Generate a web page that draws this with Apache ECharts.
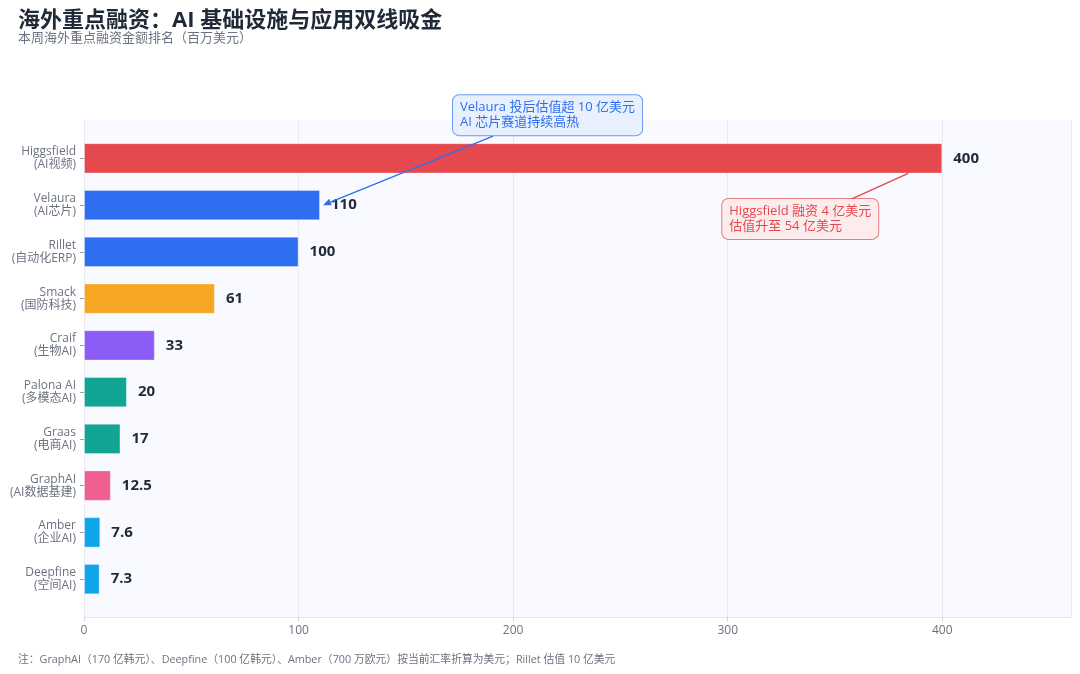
<!DOCTYPE html>
<html>
<head>
<meta charset="utf-8">
<script src="https://cdn.jsdelivr.net/npm/echarts@6/dist/echarts.min.js"></script>
<style>
html,body{margin:0;padding:0;background:#fff;}
#chart{width:1080px;height:674px;}
</style>
</head>
<body>
<div id="chart"></div>
<script>
const categories = ['Higgsfield\n(AI视频)', 'Velaura\n(AI芯片)', 'Rillet\n(自动化ERP)', 'Smack\n(国防科技)', 'Craif\n(生物AI)', 'Palona AI\n(多模态AI)', 'Graas\n(电商AI)', 'GraphAI\n(AI数据基建)', 'Amber\n(企业AI)', 'Deepfine\n(空间AI)'];
const values = [400, 110, 100, 61, 33, 20, 17, 12.5, 7.6, 7.3];
const barColors = ['#e5484d', '#2d6ff0', '#2d6ff0', '#f5a623', '#8b5cf6', '#12a594', '#12a594', '#ef5f8f', '#0ea5e9', '#0ea5e9'];
const xMax = 460;
const xInterval = 100;
const titleText = '海外重点融资：AI 基础设施与应用双线吸金';
const subtitleText = '本周海外重点融资金额排名（百万美元）';
const noteText = '注：GraphAI（170 亿韩元）、Deepfine（100 亿韩元）、Amber（700 万欧元）按当前汇率折算为美元；Rillet 估值 10 亿美元';
const noteVelaura = 'Velaura 投后估值超 10 亿美元\nAI 芯片赛道持续高热';
const noteHiggs = 'Higgsfield 融资 4 亿美元\n估值升至 54 亿美元';

const FONT = '"Open Sans", "Noto Sans CJK SC", sans-serif';
const chart = echarts.init(document.getElementById('chart'));

const option = {
  backgroundColor: '#ffffff',
  textStyle: { fontFamily: FONT },
  title: {
    text: titleText,
    subtext: subtitleText,
    left: 13,
    top: 5,
    itemGap: 0,
    textStyle: { fontSize: 22, fontWeight: 'bold', color: '#1f2937', fontFamily: FONT },
    subtextStyle: { fontSize: 13, color: '#6b7280', fontFamily: FONT }
  },
  grid: [
    { left: 84, right: 9, top: 135, bottom: 71.5, containLabel: false },
    { left: 84, right: 9, top: 120, bottom: 57, show: true, backgroundColor: '#f8faff', borderWidth: 0, z: -1 }
  ],
  xAxis: [
    { type: 'value', gridIndex: 0, min: 0, max: xMax, interval: xInterval, show: false },
    {
      type: 'value', gridIndex: 1, min: 0, max: xMax, interval: xInterval,
      axisLine: { show: true, lineStyle: { color: '#e5e7eb' } },
      axisTick: { show: true, length: 4, lineStyle: { color: '#d1d5db' } },
      axisLabel: { color: '#6b7280', fontSize: 12, margin: 8, showMaxLabel: false,
        formatter: v => (v % xInterval === 0 ? String(v) : '') },
      splitLine: { show: true, lineStyle: { color: '#e8eaef', width: 1 } }
    }
  ],
  yAxis: [
    {
      type: 'category', gridIndex: 0, data: categories, inverse: true,
      axisLine: { show: false },
      axisTick: { show: true, length: 4, alignWithLabel: true, lineStyle: { color: '#9ca3af' } },
      axisLabel: { color: '#6b7280', fontSize: 12, lineHeight: 13, margin: 8 },
      splitLine: { show: false }
    },
    { type: 'value', gridIndex: 1, min: 0, max: 1, show: false }
  ],
  series: [{
    type: 'bar',
    xAxisIndex: 0,
    yAxisIndex: 0,
    barWidth: '65%',
    data: values.map((v, i) => ({ value: v, itemStyle: { color: barColors[i] } })),
    itemStyle: { borderColor: 'rgba(255,255,255,0.35)', borderWidth: 1 },
    label: {
      show: true, position: 'right', distance: 11,
      fontSize: 15, fontWeight: 'bold', color: '#1f2937', fontFamily: FONT,
      formatter: p => String(p.value)
    },
    z: 3
  }]
};
chart.setOption(option);

function px(v, idx) {
  return chart.convertToPixel({ xAxisIndex: 0, yAxisIndex: 0 }, [v, idx]);
}

const vTip = px(values[1], 1);
const hEnd = px(values[0], 0);

// Velaura annotation
const vArrowTip = [vTip[0] + 3, vTip[1]];
const vStart = [vTip[0] + 173, vTip[1] - 69];
const dx = vArrowTip[0] - vStart[0], dy = vArrowTip[1] - vStart[1];
const len = Math.sqrt(dx * dx + dy * dy);
const ux = dx / len, uy = dy / len;
const ah = 8, aw = 3.5;
const base = [vArrowTip[0] - ux * ah, vArrowTip[1] - uy * ah];
const arrowPts = [
  vArrowTip,
  [base[0] - uy * aw, base[1] + ux * aw],
  [base[0] + uy * aw, base[1] - ux * aw]
];

// Higgsfield annotation
const hLineEnd = [hEnd[0] - 34, hEnd[1] + 15];
const hLineStart = [hEnd[0] - 90.5, hEnd[1] + 40.5];

chart.setOption({
  graphic: [
    {
      type: 'line', z: 10,
      shape: { x1: vStart[0], y1: vStart[1], x2: base[0], y2: base[1] },
      style: { stroke: '#2d6ff0', lineWidth: 1.3 }
    },
    {
      type: 'polygon', z: 10,
      shape: { points: arrowPts },
      style: { fill: '#2d6ff0' }
    },
    {
      type: 'text', z: 11,
      x: vTip[0] + 133, y: vTip[1] - 110,
      style: {
        text: noteVelaura, fill: '#2d6ff0', fontSize: 13, fontFamily: FONT, lineHeight: 15,
        backgroundColor: '#e9f0fd', borderColor: 'rgba(45,111,240,0.7)', borderWidth: 1,
        borderRadius: 6, padding: [5, 7, 5, 7]
      }
    },
    {
      type: 'line', z: 10,
      shape: { x1: hLineStart[0], y1: hLineStart[1], x2: hLineEnd[0], y2: hLineEnd[1] },
      style: { stroke: '#e5484d', lineWidth: 1.3 }
    },
    {
      type: 'text', z: 11,
      x: hEnd[0] - 220, y: hEnd[1] + 40.5,
      style: {
        text: noteHiggs, fill: '#e5484d', fontSize: 13, fontFamily: FONT, lineHeight: 15,
        backgroundColor: '#fdeced', borderColor: 'rgba(229,72,77,0.7)', borderWidth: 1,
        borderRadius: 6, padding: [5, 7, 5, 7]
      }
    },
    {
      type: 'text', z: 11,
      left: 18, top: 655,
      style: { text: noteText, fill: '#6b7280', fontSize: 10.8, fontFamily: FONT }
    }
  ]
});
</script>
</body>
</html>
